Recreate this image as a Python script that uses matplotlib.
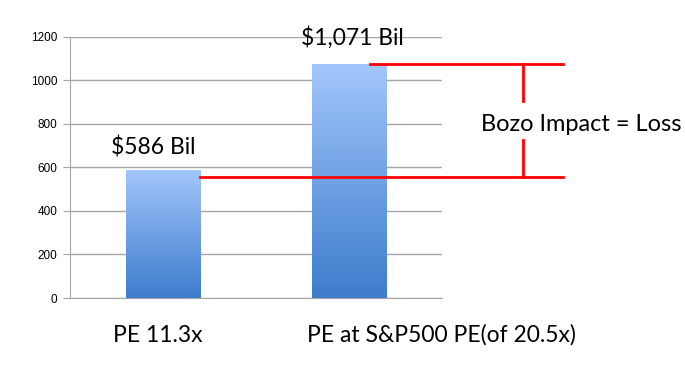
import numpy as np
import matplotlib.pyplot as plt
from matplotlib.colors import LinearSegmentedColormap

plt.rcParams['font.family'] = ['Lato', 'DejaVu Sans']

# data
categories = ['PE 11.3x', 'PE at S&P500 PE(of 20.5x)']
values = [586, 1071]
value_labels = ['$586 Bil', '$1,071 Bil']
yticks = [0, 200, 400, 600, 800, 1000, 1200]
# red bracket levels as drawn
bracket_low = 556
bracket_high = 1075
bracket_text = 'Bozo Impact = Loss'

fig = plt.figure(figsize=(6.85, 3.75), dpi=100)
ax = fig.add_axes([0.1022, 0.2053, 0.5431, 0.6973])

cmap = LinearSegmentedColormap.from_list('bar', ['#3d7ccc', '#a2c6fb'])
grad = np.linspace(0, 1, 256).reshape(-1, 1)
bw = 0.4
for i, v in enumerate(values):
    ax.imshow(grad, cmap=cmap, origin='lower', aspect='auto',
              extent=[i - bw / 2, i + bw / 2, 0, v], zorder=2)

ax.set_xlim(-0.5, 1.5)
ax.set_ylim(0, 1200)
ax.set_yticks(yticks)
ax.set_xticks([])
ax.grid(axis='y', color='#a6a6a6', linewidth=1)
ax.set_axisbelow(True)
for s in ['top', 'right']:
    ax.spines[s].set_visible(False)
for s in ['left', 'bottom']:
    ax.spines[s].set_color('#a6a6a6')
ax.tick_params(axis='y', length=5, color='#a6a6a6', labelsize=8.5, pad=4)
for lab in ax.get_yticklabels():
    lab.set_family(['Liberation Sans', 'DejaVu Sans'])

# value labels
ax.text(-0.054, values[0] + 104, value_labels[0], ha='center', va='center', fontsize=16.5)
ax.text(1.02, values[1] + 124, value_labels[1], ha='center', va='center', fontsize=16.5, clip_on=False)

# category labels
ax.text(-0.03, -170, categories[0], ha='center', va='center', fontsize=16.5, clip_on=False)
ax.text(1.495, -170, categories[1], ha='center', va='center', fontsize=16.5, clip_on=False)

# red bracket
red = '#ff0000'
ax.plot([0.2, 2.15], [bracket_low, bracket_low], color=red, lw=2, clip_on=False, zorder=3)
ax.plot([1.113, 2.15], [bracket_high, bracket_high], color=red, lw=2, clip_on=False, zorder=3)
ax.plot([1.935, 1.935], [bracket_high, 905], color=red, lw=2, clip_on=False, zorder=3)
ax.plot([1.935, 1.935], [725, bracket_low], color=red, lw=2, clip_on=False, zorder=3)
ax.text(2.247, 795, bracket_text, ha='center', va='center', fontsize=17, clip_on=False)

fig.savefig('out.png', dpi=100)
